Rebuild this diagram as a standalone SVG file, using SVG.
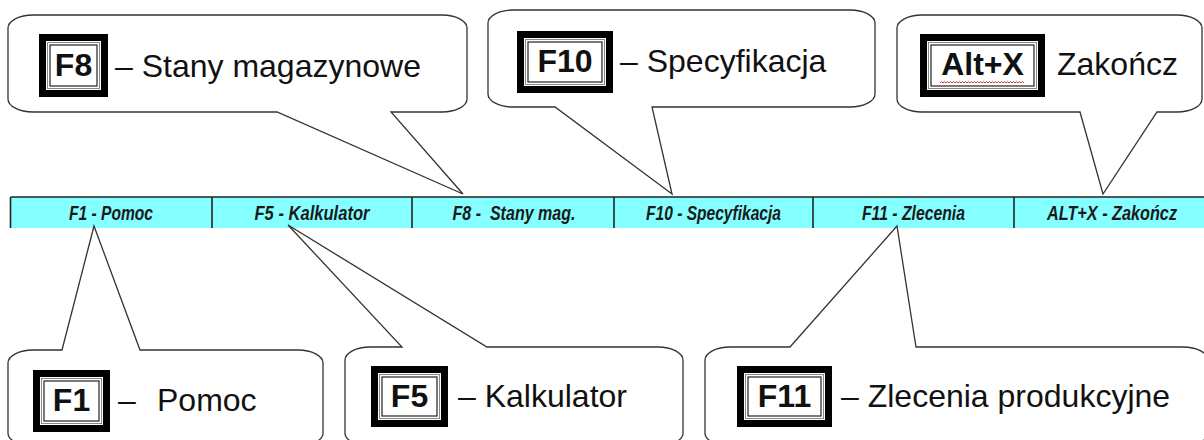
<svg xmlns="http://www.w3.org/2000/svg" width="1204" height="440" viewBox="0 0 1204 440">
<style>
.bub{fill:#fff;stroke:#333;stroke-width:1.3;stroke-linejoin:miter}
.kout{fill:#000}
.kin{fill:#fff}
.k1{fill:none;stroke:#888;stroke-width:1}
.k2{fill:none;stroke:#222;stroke-width:1.2}
.kt{font-family:"Liberation Sans",Arial,sans-serif;font-weight:bold;font-size:32px;fill:#111;text-anchor:middle}
.lt{font-family:"Liberation Sans",Arial,sans-serif;font-size:32px;fill:#111}
.bt{font-family:"Liberation Sans Narrow","Liberation Sans",Arial,sans-serif;font-style:italic;font-weight:bold;font-size:21px;fill:#1a1a1a;text-anchor:middle}
.dv{stroke:#222;stroke-width:1.6}
</style>
<rect width="1204" height="440" fill="#fff"/>

<g id="toolbar">
  <rect x="10.5" y="197" width="1193.5" height="31" fill="#85ffff"/>
  <line class="dv" x1="10.5" y1="197" x2="1204" y2="197"/>
  <line class="dv" x1="10.5" y1="197" x2="10.5" y2="228"/>
  <line class="dv" x1="212" y1="197" x2="212" y2="228"/>
  <line class="dv" x1="412" y1="197" x2="412" y2="228"/>
  <line class="dv" x1="614" y1="197" x2="614" y2="228"/>
  <line class="dv" x1="813" y1="197" x2="813" y2="228"/>
  <line class="dv" x1="1014" y1="197" x2="1014" y2="228"/>
  <text class="bt" x="111" y="220" textLength="84" lengthAdjust="spacingAndGlyphs">F1 - Pomoc</text>
  <text class="bt" x="312" y="220" textLength="115" lengthAdjust="spacingAndGlyphs">F5 - Kalkulator</text>
  <text class="bt" x="514" y="220" textLength="123" lengthAdjust="spacingAndGlyphs">F8 -&#160; Stany mag.</text>
  <text class="bt" x="713.5" y="220" textLength="135" lengthAdjust="spacingAndGlyphs">F10 - Specyfikacja</text>
  <text class="bt" x="913.5" y="220" textLength="103" lengthAdjust="spacingAndGlyphs">F11 - Zlecenia</text>
  <text class="bt" x="1112" y="220" textLength="130" lengthAdjust="spacingAndGlyphs">ALT+X - Zakończ</text>
</g>

<g id="connectors"></g>

<g id="callout-f8">
  <path class="bub" d="M33 15 H442 A25 13 0 0 1 467 28 V99 A25 13 0 0 1 442 112 H391 L463 194 L277 112 H33 A25 13 0 0 1 8 99 V28 A25 13 0 0 1 33 15 Z"/>
  <rect class="kout" x="39" y="34" width="69" height="63"/>
  <rect class="kin" x="46" y="41" width="55" height="49"/>
  <rect class="k1" x="47.5" y="42.5" width="52" height="46"/>
  <rect class="k2" x="50" y="45" width="47" height="41"/>
  <text class="kt" x="73.5" y="76">F8</text>
  <text class="lt" x="115" y="77">– Stany magazynowe</text>
</g>

<g id="callout-f10">
  <path class="bub" d="M513 10 H850 A25 13 0 0 1 875 23 V94 A25 13 0 0 1 850 107 H652 L672 194 L555 107 H513 A25 13 0 0 1 488 94 V23 A25 13 0 0 1 513 10 Z"/>
  <rect class="kout" x="517" y="31" width="96" height="62"/>
  <rect class="kin" x="524" y="38" width="82" height="48"/>
  <rect class="k1" x="525.5" y="39.5" width="79" height="45"/>
  <rect class="k2" x="528" y="42" width="74" height="40"/>
  <text class="kt" x="565" y="72">F10</text>
  <text class="lt" x="620" y="72">– Specyfikacja</text>
</g>

<g id="callout-altx">
  <path class="bub" d="M922 15 H1177 A25 13 0 0 1 1202 28 V99 A25 13 0 0 1 1177 112 H1157 L1103 194 L1080 112 H922 A25 13 0 0 1 897 99 V28 A25 13 0 0 1 922 15 Z"/>
  <rect class="kout" x="920" y="34" width="125" height="63"/>
  <rect class="kin" x="927" y="41" width="111" height="49"/>
  <rect class="k1" x="928.5" y="42.5" width="108" height="46"/>
  <rect class="k2" x="931" y="45" width="103" height="41"/>
  <text class="kt" x="982.5" y="75">Alt+X</text>
  <path d="M940 83 l1.5 -1.5 1.5 1.5 1.5 -1.5 1.5 1.5 1.5 -1.5 1.5 1.5 1.5 -1.5 1.5 1.5 1.5 -1.5 1.5 1.5 1.5 -1.5 1.5 1.5 1.5 -1.5 1.5 1.5 1.5 -1.5 1.5 1.5 1.5 -1.5 1.5 1.5 1.5 -1.5 1.5 1.5 1.5 -1.5 1.5 1.5 1.5 -1.5 1.5 1.5 1.5 -1.5 1.5 1.5 1.5 -1.5 1.5 1.5 1.5 -1.5 1.5 1.5 1.5 -1.5 1.5 1.5 1.5 -1.5 1.5 1.5 1.5 -1.5 1.5 1.5 1.5 -1.5 1.5 1.5 1.5 -1.5 1.5 1.5 1.5 -1.5 1.5 1.5 1.5 -1.5 1.5 1.5 1.5 -1.5 1.5 1.5 1.5 -1.5 1.5 1.5 1.5 -1.5 1.5 1.5 1.5 -1.5 1.5 1.5 1.5 -1.5 1.5 1.5 1.5 -1.5 1.5 1.5" fill="none" stroke="#c0392b" stroke-width="1"/>
  <text class="lt" x="1057" y="75">Zakończ</text>
</g>

<g id="callout-f1">
  <path class="bub" d="M33 350 H62 L94 226 L140 350 H298 A25 13 0 0 1 323 363 V433 A25 13 0 0 1 298 446 H33 A25 13 0 0 1 8 433 V363 A25 13 0 0 1 33 350 Z"/>
  <rect class="kout" x="33" y="370" width="77" height="62"/>
  <rect class="kin" x="40" y="377" width="63" height="48"/>
  <rect class="k1" x="41.5" y="378.5" width="60" height="45"/>
  <rect class="k2" x="44" y="381" width="55" height="40"/>
  <text class="kt" x="71.5" y="411">F1</text>
  <text class="lt" x="118" y="411">–</text>
  <text class="lt" x="157" y="411">Pomoc</text>
</g>

<g id="callout-f5">
  <path class="bub" d="M370 347 H402 L288 225 L487 347 H658 A25 13 0 0 1 683 360 V433 A25 13 0 0 1 658 446 H370 A25 13 0 0 1 345 433 V360 A25 13 0 0 1 370 347 Z"/>
  <rect class="kout" x="371" y="366" width="77" height="61"/>
  <rect class="kin" x="378" y="373" width="63" height="47"/>
  <rect class="k1" x="379.5" y="374.5" width="60" height="44"/>
  <rect class="k2" x="382" y="377" width="55" height="39"/>
  <text class="kt" x="409.5" y="407">F5</text>
  <text class="lt" x="458" y="407">– Kalkulator</text>
</g>

<g id="callout-f11">
  <path class="bub" d="M730 347 H790 L897 226 L916 347 H1183 A25 13 0 0 1 1208 360 V433 A25 13 0 0 1 1183 446 H730 A25 13 0 0 1 705 433 V360 A25 13 0 0 1 730 347 Z"/>
  <rect class="kout" x="737" y="366" width="95" height="61"/>
  <rect class="kin" x="744" y="373" width="81" height="47"/>
  <rect class="k1" x="745.5" y="374.5" width="78" height="44"/>
  <rect class="k2" x="748" y="377" width="73" height="39"/>
  <text class="kt" x="784.5" y="407">F11</text>
  <text class="lt" x="841" y="407">– Zlecenia produkcyjne</text>
</g>
</svg>
